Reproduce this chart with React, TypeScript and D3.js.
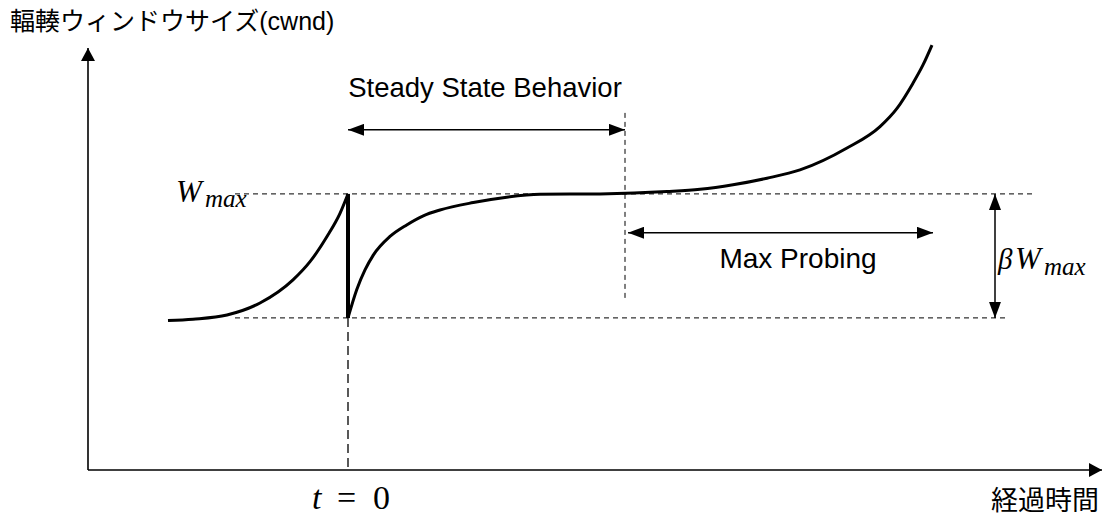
import * as d3 from 'd3';

// time (t = 0 at the loss event) and window size (Wmax = 100)
const beforeT = [-18, -15.5, -12.1, -8.8, -5.5, -3.8, -2.1, -0.8, 0];
const beforeW = [69.35, 69.7, 70.7, 73.6, 79.2, 83.6, 89.7, 95.3, 100];
const afterT = [0, 0.87, 1.7, 2.53, 4.2, 5.87, 7.53, 9.2, 12.53, 15.87, 19.2, 25.2, 31.9, 35.2, 38.5, 41.9, 45.2, 49.9, 53.2, 54.9, 56.5, 57.5, 58.4];
const afterW = [70, 76.8, 81.6, 85.2, 89.7, 92.5, 94.7, 96.1, 97.9, 99.2, 99.9, 100, 100.56, 101.1, 102.2, 103.8, 105.8, 111.1, 116.3, 120.7, 126.8, 131.2, 136];

const W_MAX = 100;
const W_LOW = 70;
const T_STEADY = 27.7;
const T_PROBE_START = 28;
const T_PROBE_END = 58.5;
const T_BETA = 64.7;

const W = 1102;
const H = 517;

const x = d3.scaleLinear().domain([-26, 75.2]).range([88, 1100]);
const y = d3.scaleLinear().domain([33.2, 135.3]).range([470, 48]);

const line = d3
    .line<[number, number]>()
    .x(d => x(d[0]))
    .y(d => y(d[1]))
    .curve(d3.curveMonotoneX);

const before = beforeT.map((t, i) => [t, beforeW[i]] as [number, number]);
const after = afterT.map((t, i) => [t, afterW[i]] as [number, number]);

const sans = '"Liberation Sans", Arial, "Noto Sans CJK JP", sans-serif';
const jp = '"Noto Sans CJK JP", "Liberation Sans", sans-serif';
const serif = '"Liberation Serif", "DejaVu Serif", serif';

export default function App() {
    const x0 = x(-26);
    const y0 = y(33.2);
    return (
        <svg width={W} height={H} style={{ position: 'absolute', left: 0, top: 0, background: '#fff' }}>
            <defs>
                <marker id="ah" viewBox="0 0 10 10" refX="10" refY="5" markerWidth="16" markerHeight="12"
                    markerUnits="userSpaceOnUse" orient="auto-start-reverse" preserveAspectRatio="none">
                    <path d="M0,0 L10,5 L0,10 Z" fill="#000" />
                </marker>
                <marker id="axh" viewBox="0 0 10 10" refX="10" refY="5" markerWidth="13" markerHeight="14"
                    markerUnits="userSpaceOnUse" orient="auto" preserveAspectRatio="none">
                    <path d="M0,0 L10,5 L0,10 Z" fill="#000" />
                </marker>
            </defs>

            {/* axes */}
            <line x1={x0} y1={y0} x2={x0} y2={y(135.3)} stroke="#000" strokeWidth={1.6} markerEnd="url(#axh)" />
            <line x1={x0} y1={y0} x2={x(75.2) + 2} y2={y0} stroke="#000" strokeWidth={1.6} markerEnd="url(#axh)" />

            {/* dashed guides */}
            <g stroke="#000" strokeWidth={1} strokeDasharray="5,4" fill="none">
                <line x1={x(-11.3)} x2={x(68.5)} y1={y(W_MAX)} y2={y(W_MAX)} />
                <line x1={x(-11.3)} x2={x(65.9)} y1={y(W_LOW)} y2={y(W_LOW)} />
                <line x1={x(0)} x2={x(0)} y1={y(W_LOW)} y2={y0} strokeDasharray="9,5" strokeWidth={1.3} />
                <line x1={x(T_STEADY)} x2={x(T_STEADY)} y1={y(119.6)} y2={y(73.9)} />
            </g>

            {/* cwnd curve */}
            <path d={line(before) ?? ''} fill="none" stroke="#000" strokeWidth={3} />
            <path d={line(after) ?? ''} fill="none" stroke="#000" strokeWidth={3} />
            <line x1={x(0)} x2={x(0)} y1={y(W_MAX)} y2={y(W_LOW)} stroke="#000" strokeWidth={4} />

            {/* double arrows */}
            <line x1={x(0)} x2={x(T_STEADY)} y1={y(115.5)} y2={y(115.5)} stroke="#000" strokeWidth={1.5}
                markerStart="url(#ah)" markerEnd="url(#ah)" />
            <line x1={x(T_PROBE_START)} x2={x(T_PROBE_END)} y1={y(90.6)} y2={y(90.6)} stroke="#000" strokeWidth={1.5}
                markerStart="url(#ah)" markerEnd="url(#ah)" />
            <line x1={x(T_BETA)} x2={x(T_BETA)} y1={y(W_MAX)} y2={y(W_LOW)} stroke="#000" strokeWidth={1.5}
                markerStart="url(#ah)" markerEnd="url(#ah)" />

            {/* labels */}
            <text x={10} y={30} fontFamily={jp} fontSize={25} fill="#000">
                輻輳ウィンドウサイズ<tspan fontFamily={sans}>(cwnd)</tspan>
            </text>
            <text x={485} y={97} textAnchor="middle" fontFamily={sans} fontSize={27.5} fill="#000">
                Steady State Behavior
            </text>
            <text x={798} y={268} textAnchor="middle" fontFamily={sans} fontSize={28} fill="#000">
                Max Probing
            </text>
            <text x={1099} y={510} textAnchor="end" fontFamily={jp} fontSize={27} fill="#000">
                経過時間
            </text>

            <g fontFamily={serif} fontStyle="italic" fill="#000">
                <text x={176} y={201.5} fontSize={31}>W</text>
                <text x={205} y={206.5} fontSize={25}>max</text>
                <text x={998} y={268.5} fontSize={29}>β</text>
                <text x={1015} y={268.5} fontSize={31}>W</text>
                <text x={1044} y={274.5} fontSize={25}>max</text>
            </g>

            <g fontFamily={serif} fontSize={34} fill="#000">
                <text x={312} y={509} fontStyle="italic">t</text>
                <text x={337} y={509}>=</text>
                <text x={373} y={509}>0</text>
            </g>
        </svg>
    );
}
